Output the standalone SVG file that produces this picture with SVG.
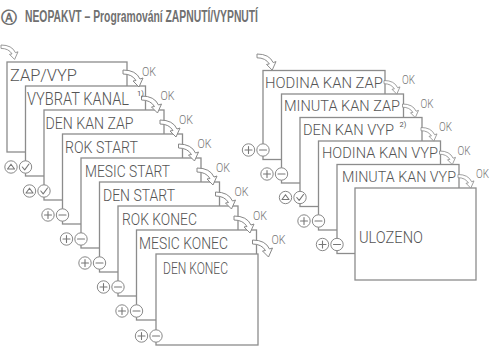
<svg xmlns="http://www.w3.org/2000/svg" xmlns:xlink="http://www.w3.org/1999/xlink" width="499" height="360" viewBox="0 0 499 360">
<style>
.box{fill:#fff;stroke:#8c8c8c;stroke-width:1.3}
.lcd{font-family:Roboto,"Liberation Sans",Arial,sans-serif;font-weight:300;font-size:16.5px;fill:#555}
.lcdr{font-family:Roboto,"Liberation Sans",Arial,sans-serif;font-weight:300;font-size:15.5px;fill:#555}
.sup{font-family:Roboto,"Liberation Sans",Arial,sans-serif;font-size:7.5px;fill:#555}
.ok{font-family:Roboto,"Liberation Sans",Arial,sans-serif;font-weight:300;font-size:13px;fill:#777}
.arr{fill:#fff;stroke:#888;stroke-width:1;stroke-linejoin:round}
.ic{fill:#fff;stroke:#888;stroke-width:1}
.gl{fill:none;stroke:#777;stroke-width:1.1;stroke-linecap:round;stroke-linejoin:round}
.title{font-family:"Liberation Sans",Arial,sans-serif;font-weight:bold;font-size:16px;fill:#707070}
</style>
<defs>
<path id="arw" class="arr" d="M0,0 Q13,0 17,9 L20,8 L16,17 L10,11 L13,10.5 Q9,4 0,4 Z"/>
<g id="up"><circle class="ic" r="6.2"/><path class="gl" d="M-3.5,2 L0,-2.8 L3.5,2 Z"/></g>
<g id="ck"><circle class="ic" r="6.2"/><path class="gl" d="M-3.2,0 L-0.8,2.8 L3.5,-3"/></g>
<g id="pl"><circle class="ic" r="6.2"/><path class="gl" d="M-3.5,0 H3.5 M0,-3.5 V3.5"/></g>
<g id="mi"><circle class="ic" r="6.2"/><path class="gl" d="M-3.5,0 H3.5"/></g>
</defs>
<rect width="499" height="360" fill="#fff"/>
<g id="title">
<text x="1" y="23" font-family="DejaVu Sans,sans-serif" font-size="15.5" font-weight="bold" fill="#707070">Ⓐ</text>
<text class="title" x="25" y="22" textLength="233" lengthAdjust="spacingAndGlyphs">NEOPAKVT – Programování ZAPNUTÍ/VYPNUTÍ</text>
</g>
<g id="node-zap-vyp"><rect class="box" x="7" y="62" width="120" height="90"/><text class="lcd" x="10" y="80.5" textLength="67" lengthAdjust="spacingAndGlyphs">ZAP/VYP</text></g>
<g id="node-vybrat-kanal"><rect class="box" x="25.5" y="86" width="120" height="90"/><text class="lcd" transform="translate(27,104.5) scale(1,1.12)" x="0" y="0" font-size="14.5" textLength="102" lengthAdjust="spacingAndGlyphs">VYBRAT KANAL</text></g>
<g id="node-den-kan-zap"><rect class="box" x="44" y="110" width="120" height="90"/><text class="lcd" x="45.5" y="128.5" textLength="88" lengthAdjust="spacingAndGlyphs">DEN KAN ZAP</text></g>
<g id="node-rok-start"><rect class="box" x="62.5" y="134" width="120" height="90"/><text class="lcd" x="65" y="152.5" textLength="73" lengthAdjust="spacingAndGlyphs">ROK START</text></g>
<g id="node-mesic-start"><rect class="box" x="81" y="158" width="120" height="90"/><text class="lcd" x="85" y="176.5" textLength="85" lengthAdjust="spacingAndGlyphs">MESIC START</text></g>
<g id="node-den-start"><rect class="box" x="99.5" y="182" width="120" height="90"/><text class="lcd" x="103" y="200.5" textLength="72" lengthAdjust="spacingAndGlyphs">DEN START</text></g>
<g id="node-rok-konec"><rect class="box" x="118" y="206" width="120" height="90"/><text class="lcd" x="122" y="224.5" textLength="75" lengthAdjust="spacingAndGlyphs">ROK KONEC</text></g>
<g id="node-mesic-konec"><rect class="box" x="136.5" y="230" width="120" height="90"/><text class="lcd" x="139" y="248.5" textLength="89" lengthAdjust="spacingAndGlyphs">MESIC KONEC</text></g>
<g id="node-den-konec"><rect class="box" x="156" y="254" width="102" height="91"/><text class="lcd" x="163" y="274" textLength="65" lengthAdjust="spacingAndGlyphs">DEN KONEC</text></g>
<g id="node-hodina-kan-zap"><rect class="box" x="263" y="70.5" width="122" height="89"/><text class="lcdr" x="265" y="87.5" textLength="118" lengthAdjust="spacingAndGlyphs">HODINA KAN ZAP</text></g>
<g id="node-minuta-kan-zap"><rect class="box" x="281.5" y="94" width="122" height="89"/><text class="lcdr" x="284" y="111" textLength="116" lengthAdjust="spacingAndGlyphs">MINUTA KAN ZAP</text></g>
<g id="node-den-kan-vyp"><rect class="box" x="300" y="117.5" width="122" height="89"/><text class="lcdr" x="303" y="134.5" textLength="91" lengthAdjust="spacingAndGlyphs">DEN KAN VYP</text><text class="sup" x="399.5" y="127">2)</text></g>
<g id="node-hodina-kan-vyp"><rect class="box" x="318.5" y="141" width="122" height="89"/><text class="lcdr" x="322" y="158" textLength="116" lengthAdjust="spacingAndGlyphs">HODINA KAN VYP</text></g>
<g id="node-minuta-kan-vyp"><rect class="box" x="337" y="164.5" width="122" height="89"/><text class="lcdr" x="342" y="181.5" textLength="114" lengthAdjust="spacingAndGlyphs">MINUTA KAN VYP</text></g>
<g id="node-ulozeno"><rect class="box" x="355" y="188" width="121" height="92"/><text class="lcd" x="359" y="243" textLength="64" lengthAdjust="spacingAndGlyphs">ULOZENO</text></g>
<g id="connectors">
<use xlink:href="#arw" transform="translate(1,45) scale(0.85)"/>
<use xlink:href="#arw" transform="translate(257,54) scale(0.95)"/>
<use xlink:href="#arw" transform="translate(123,70)"/><text class="ok" x="142" y="76" textLength="14" lengthAdjust="spacingAndGlyphs">OK</text>
<use xlink:href="#arw" transform="translate(141.5,96)"/><text class="ok" x="160.5" y="100" textLength="14" lengthAdjust="spacingAndGlyphs">OK</text>
<use xlink:href="#arw" transform="translate(160,120)"/><text class="ok" x="179" y="124" textLength="14" lengthAdjust="spacingAndGlyphs">OK</text>
<use xlink:href="#arw" transform="translate(178.5,144)"/><text class="ok" x="197.5" y="148" textLength="14" lengthAdjust="spacingAndGlyphs">OK</text>
<use xlink:href="#arw" transform="translate(197,168)"/><text class="ok" x="216" y="172" textLength="14" lengthAdjust="spacingAndGlyphs">OK</text>
<use xlink:href="#arw" transform="translate(215.5,192)"/><text class="ok" x="234.5" y="196" textLength="14" lengthAdjust="spacingAndGlyphs">OK</text>
<use xlink:href="#arw" transform="translate(234,216)"/><text class="ok" x="253" y="220" textLength="14" lengthAdjust="spacingAndGlyphs">OK</text>
<use xlink:href="#arw" transform="translate(252.5,240)"/><text class="ok" x="271.5" y="244" textLength="14" lengthAdjust="spacingAndGlyphs">OK</text>
<use xlink:href="#arw" transform="translate(384,80.5) scale(0.8)"/><text class="ok" x="402" y="84" textLength="13" lengthAdjust="spacingAndGlyphs">OK</text>
<use xlink:href="#arw" transform="translate(402.5,104) scale(0.8)"/><text class="ok" x="420.5" y="107.5" textLength="13" lengthAdjust="spacingAndGlyphs">OK</text>
<use xlink:href="#arw" transform="translate(421,127.5) scale(0.8)"/><text class="ok" x="439" y="131" textLength="13" lengthAdjust="spacingAndGlyphs">OK</text>
<use xlink:href="#arw" transform="translate(439.5,151) scale(0.8)"/><text class="ok" x="457.5" y="154.5" textLength="13" lengthAdjust="spacingAndGlyphs">OK</text>
<use xlink:href="#arw" transform="translate(458,174.5) scale(0.8)"/><text class="ok" x="476" y="178" textLength="13" lengthAdjust="spacingAndGlyphs">OK</text>
</g>
<g id="node-vybrat-kanal-note"><text class="sup" x="137" y="95.5">1)</text></g>
<g id="buttons">
<use xlink:href="#up" x="11" y="167"/><use xlink:href="#ck" x="25.5" y="167"/>
<use xlink:href="#up" x="29.5" y="191"/><use xlink:href="#ck" x="44" y="191"/>
<use xlink:href="#pl" x="48" y="215"/><use xlink:href="#mi" x="62.5" y="215"/>
<use xlink:href="#pl" x="66.5" y="239"/><use xlink:href="#mi" x="81" y="239"/>
<use xlink:href="#pl" x="85" y="263"/><use xlink:href="#mi" x="99.5" y="263"/>
<use xlink:href="#pl" x="103.5" y="287"/><use xlink:href="#mi" x="118" y="287"/>
<use xlink:href="#pl" x="122" y="311"/><use xlink:href="#mi" x="136.5" y="311"/>
<use xlink:href="#pl" x="141.5" y="336"/><use xlink:href="#mi" x="156" y="336"/>
<use xlink:href="#pl" x="248.5" y="150"/><use xlink:href="#mi" x="263" y="150"/>
<use xlink:href="#pl" x="267" y="174"/><use xlink:href="#mi" x="281.5" y="174"/>
<use xlink:href="#up" x="285.5" y="197.5"/><use xlink:href="#ck" x="300" y="197.5"/>
<use xlink:href="#pl" x="304" y="221"/><use xlink:href="#mi" x="318.5" y="221"/>
<use xlink:href="#pl" x="322.5" y="244.5"/><use xlink:href="#mi" x="337" y="244.5"/>
</g>
</svg>
